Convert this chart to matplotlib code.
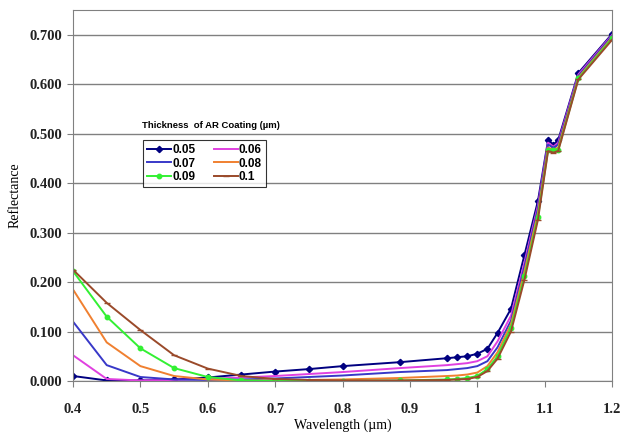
import numpy as np
import matplotlib.pyplot as plt

# wavelength (um)
wavelength = [0.4, 0.45, 0.5, 0.55, 0.6, 0.65, 0.7, 0.75, 0.8, 0.885, 0.955, 0.97, 0.985,
              1.0, 1.015, 1.03, 1.05, 1.07, 1.09, 1.105, 1.113, 1.12, 1.15, 1.2]

r_005 = [0.010, 0.001, 0.001, 0.003, 0.007, 0.013, 0.019, 0.024, 0.030, 0.038, 0.046, 0.048, 0.050,
         0.055, 0.065, 0.097, 0.146, 0.255, 0.364, 0.487, 0.478, 0.487, 0.623, 0.702]
r_006 = [0.052, 0.004, 0.001, 0.002, 0.004, 0.007, 0.010, 0.014, 0.018, 0.026, 0.032, 0.034, 0.036,
         0.040, 0.050, 0.080, 0.132, 0.240, 0.355, 0.482, 0.474, 0.482, 0.620, 0.700]
r_007 = [0.120, 0.032, 0.008, 0.003, 0.002, 0.003, 0.005, 0.008, 0.011, 0.018, 0.022, 0.024, 0.026,
         0.030, 0.040, 0.068, 0.122, 0.232, 0.349, 0.478, 0.472, 0.478, 0.617, 0.698]
r_008 = [0.185, 0.078, 0.030, 0.010, 0.003, 0.001, 0.001, 0.002, 0.003, 0.006, 0.010, 0.011, 0.013,
         0.017, 0.030, 0.058, 0.115, 0.222, 0.340, 0.472, 0.468, 0.472, 0.614, 0.695]
r_009 = [0.222, 0.130, 0.066, 0.026, 0.008, 0.001, 0.000, 0.000, 0.000, 0.001, 0.003, 0.004, 0.006,
         0.010, 0.024, 0.050, 0.108, 0.212, 0.332, 0.467, 0.467, 0.467, 0.612, 0.693]
r_010 = [0.225, 0.158, 0.103, 0.052, 0.025, 0.010, 0.004, 0.002, 0.001, 0.001, 0.002, 0.003, 0.004,
         0.008, 0.020, 0.045, 0.100, 0.205, 0.326, 0.465, 0.462, 0.465, 0.610, 0.690]

labels = ["0.05", "0.06", "0.07", "0.08", "0.09", "0.1"]

fig = plt.figure(figsize=(6.21, 4.44), dpi=100)
ax = fig.add_axes([0.1176, 0.142, 0.868, 0.835])

l1, = ax.plot(wavelength, r_005, color='#000080', lw=1.4, marker='D', ms=3.2, label=labels[0])
l2, = ax.plot(wavelength, r_006, color='#e040e0', lw=1.4, label=labels[1])
l3, = ax.plot(wavelength, r_007, color='#3838c8', lw=1.4, label=labels[2])
l4, = ax.plot(wavelength, r_008, color='#f08030', lw=1.4, label=labels[3])
l5, = ax.plot(wavelength, r_009, color='#33f033', lw=1.4, marker='o', ms=3.2, label=labels[4])
l6, = ax.plot(wavelength, r_010, color='#9a4a2a', lw=1.4, marker='_', ms=4, label=labels[5])

ax.set_xlim(0.4, 1.2)
ax.set_ylim(0, 0.75)
ax.set_xticks(np.arange(0.4, 1.21, 0.1))
ax.set_xticklabels(["0.4", "0.5", "0.6", "0.7", "0.8", "0.9", "1", "1.1", "1.2"])
ax.set_yticks(np.arange(0, 0.71, 0.1))
ax.set_yticklabels([f"{v:.3f}" for v in np.arange(0, 0.71, 0.1)])
ax.yaxis.grid(True, color='#808080', lw=1)
ax.set_axisbelow(True)
for s in ax.spines.values():
    s.set_color('#808080')
ax.tick_params(colors='#808080', length=4, labelcolor='#222222')
ax.tick_params(axis='x', pad=12)
for t in ax.get_xticklabels() + ax.get_yticklabels():
    t.set_family('Liberation Serif')
    t.set_fontsize(10.5)
    t.set_fontweight('bold')

ax.set_xlabel("Wavelength (\u00b5m)", family='Liberation Serif', fontsize=10, labelpad=2)
ax.set_ylabel("Reflectance", family='Liberation Serif', fontsize=10, labelpad=6)

ax.text(0.255, 0.69, "Thickness  of AR Coating (\u00b5m)", transform=ax.transAxes,
        ha='center', va='center', fontsize=6.8, fontweight='bold', family='Liberation Sans')
# legend filled row by row like the original
leg = ax.legend([l1, l3, l5, l2, l4, l6], [labels[0], labels[2], labels[4], labels[1], labels[3], labels[5]],
                loc='upper left', bbox_to_anchor=(0.13, 0.65), ncol=2, frameon=True,
                fancybox=False, edgecolor='black', borderaxespad=0, handlelength=2.0,
                columnspacing=1.6, labelspacing=0.12, handletextpad=0.1, borderpad=0.35,
                prop={'family': 'Liberation Sans', 'weight': 'bold', 'size': 8.5})
leg.get_frame().set_linewidth(0.8)

fig.savefig("out.png", dpi=100)
